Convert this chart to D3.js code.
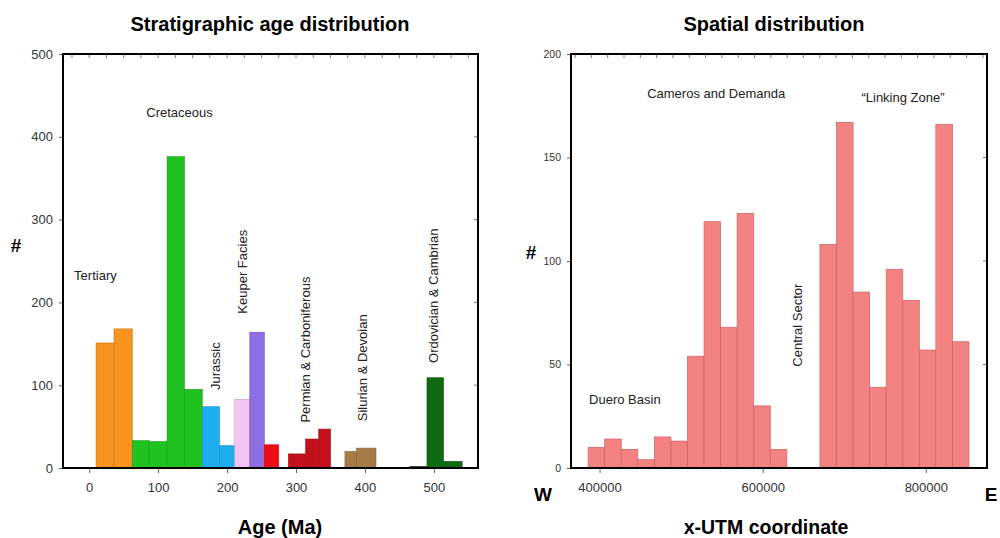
<!DOCTYPE html>
<html>
<head>
<meta charset="utf-8">
<script src="https://cdn.jsdelivr.net/npm/d3@7"></script>
<style>
  body { margin: 0; background: #fff; }
  svg { display: block; }
  text { font-family: "Liberation Sans", Arial, sans-serif; }
</style>
</head>
<body>
<svg id="grafico" width="1000" height="538"></svg>
<script>
// Stratigraphic age bins (Ma)
var ageStart = [10, 36, 62.5, 87, 113, 138, 164, 189, 211, 233, 254, 289, 314, 333, 371, 388, 465, 490, 514],
    ageEnd   = [36, 62.5, 87, 113, 138, 164, 189, 211, 233, 254, 275, 314, 333, 350, 388, 416, 490, 514, 541],
    ageCount = [151, 168, 33, 32, 376, 95, 74, 27, 83, 164, 28, 17, 35, 47, 20, 24, 2, 109, 8],
    ageGroup = ["ter", "ter", "cre", "cre", "cre", "cre", "jur", "jur", "keu1", "keu2", "tri",
                "pc", "pc", "pc", "sd", "sd", "oc0", "oc", "oc"]

var ageTicks = [0, 100, 200, 300, 400, 500],
    ageCountTicks = [0, 100, 200, 300, 400, 500]

// Spatial distribution, x-UTM bins of ~20 km
var utmBinStart = 386000,
    utmBinWidth = 20300,
    utmCount = [10, 14, 9, 4, 15, 13, 54, 119, 68, 123, 30, 9, 0, 0, 108, 167, 85, 39, 96, 81, 57, 166, 61]

var utmTicks = [400000, 600000, 800000],
    utmCountTicks = [0, 50, 100, 150, 200]

var cores = {
    ter: "#f7931e", cre: "#1fc21f", jur: "#1eaef0", keu1: "#f4c4f4", keu2: "#8c6fe3",
    tri: "#ee0d16", pc: "#c3101b", sd: "#a67c46", oc0: "#223322", oc: "#0f6a12"
}

var svg = d3.select("#grafico")

// ---------- painel esquerdo ----------
var xL = d3.scaleLinear().domain([-38, 564]).range([63, 478]),
    yL = d3.scaleLinear().domain([0, 500]).range([468, 54])

var gL = svg.append("g")

gL.selectAll("rect.barra")
    .data(ageCount)
  .enter().append("rect")
    .attr("class", "barra")
    .attr("x", function(d, i) { return xL(ageStart[i]) })
    .attr("width", function(d, i) { return xL(ageEnd[i]) - xL(ageStart[i]) })
    .attr("y", function(d) { return yL(d) })
    .attr("height", function(d) { return yL(0) - yL(d) })
    .attr("fill", function(d, i) { return cores[ageGroup[i]] })
    .attr("stroke", function(d, i) { return d3.color(cores[ageGroup[i]]).darker(0.6) })
    .attr("stroke-width", 0.6)

desenhaMoldura(gL, xL, yL, ageTicks, ageCountTicks, d3.range(-25, 564, 25), 13)

// titulo e rotulos
titulo(gL, 270, 31, 20, "Stratigraphic age distribution")
titulo(gL, 280, 534, 20, "Age (Ma)")
titulo(gL, 16, 252, 19, "#")

rotulo(gL, xL(131), yL(430), 0, "Cretaceous")
rotulo(gL, xL(9), yL(233), 0, "Tertiary")
rotulo(gL, xL(183), yL(123), -90, "Jurassic")
rotulo(gL, xL(223), yL(237), -90, "Keuper Facies")
rotulo(gL, xL(314), yL(143), -90, "Permian & Carboniferous")
rotulo(gL, xL(397), yL(121), -90, "Silurian & Devoian")
rotulo(gL, xL(499), yL(208), -90, "Ordovician & Cambrian")

// ---------- painel direito ----------
var xR = d3.scaleLinear().domain([365000, 875000]).range([571, 987]),
    yR = d3.scaleLinear().domain([0, 200]).range([468, 54])

var gR = svg.append("g")

gR.selectAll("rect.barra")
    .data(utmCount)
  .enter().append("rect")
    .attr("class", "barra")
    .attr("x", function(d, i) { return xR(utmBinStart + i * utmBinWidth) })
    .attr("width", function(d, i) { return xR(utmBinStart + (i + 1) * utmBinWidth) - xR(utmBinStart + i * utmBinWidth) })
    .attr("y", function(d) { return yR(d) })
    .attr("height", function(d) { return yR(0) - yR(d) })
    .attr("fill", "#f58282")
    .attr("stroke", "#c86262")
    .attr("stroke-width", 0.7)
    .style("display", function(d) { return d > 0 ? null : "none" })

desenhaMoldura(gR, xR, yR, utmTicks, utmCountTicks, d3.range(370000, 875000, 20000), 10.5)

titulo(gR, 774, 31, 20, "Spatial distribution")
titulo(gR, 766, 534, 19.5, "x-UTM coordinate")
titulo(gR, 531, 259, 19, "#")
titulo(gR, 543, 501, 19, "W")
titulo(gR, 991, 501, 19, "E")

rotulo(gR, xR(543000), yR(181), 0, "Cameros and Demanda")
rotulo(gR, xR(772000), yR(179), 0, "\u201cLinking Zone\u201d")
rotulo(gR, xR(431000), yR(33), 0, "Duero Basin")
rotulo(gR, xR(642000), yR(69), -90, "Central Sector")

// moldura com eixos e marcas
function desenhaMoldura(g, x, y, xt, yt, menores, tamanhoY) {
    var x0 = x.range()[0], x1 = x.range()[1],
        y0 = y.range()[0], y1 = y.range()[1]

    var eixoY = g.append("g")
        .attr("transform", "translate(" + x0 + ",0)")
        .call(d3.axisLeft(y).tickValues(yt).tickSize(4).tickPadding(6).tickFormat(d3.format("d")))
    eixoY.select(".domain").remove()
    eixoY.selectAll("line").attr("stroke", "#666")
    eixoY.selectAll("text").style("font-size", tamanhoY + "px").attr("fill", "#333")

    var eixoX = g.append("g")
        .attr("transform", "translate(0," + y0 + ")")
        .call(d3.axisBottom(x).tickValues(xt).tickSize(5).tickPadding(10).tickFormat(d3.format("d")))
    eixoX.select(".domain").remove()
    eixoX.selectAll("line").attr("stroke", "#666")
    eixoX.selectAll("text").style("font-size", "13px").attr("fill", "#333")

    // marcas pequenas no topo
    g.selectAll("line.menor-topo")
        .data(menores.filter(function(d) { return x(d) > x0 + 2 && x(d) < x1 - 2 }))
      .enter().append("line")
        .attr("x1", function(d) { return x(d) }).attr("x2", function(d) { return x(d) })
        .attr("y1", y1).attr("y2", y1 + 4)
        .attr("stroke", "#555").attr("stroke-width", 0.8)

    // marcas do lado direito
    g.selectAll("line.direita")
        .data(yt)
      .enter().append("line")
        .attr("x1", x1 - 4).attr("x2", x1)
        .attr("y1", function(d) { return y(d) }).attr("y2", function(d) { return y(d) })
        .attr("stroke", "#555").attr("stroke-width", 0.8)

    g.append("path")
        .attr("d", "M" + x0 + "," + y1 + "V" + y0 + "H" + x1 + "V" + y1 + "Z")
        .attr("fill", "none").attr("stroke", "#000").attr("stroke-width", 2)
}

function titulo(g, x, y, tam, texto) {
    g.append("text").attr("x", x).attr("y", y).attr("text-anchor", "middle")
        .style("font-size", tam + "px").style("font-weight", "bold").text(texto)
}

function rotulo(g, x, y, ang, texto) {
    g.append("text")
        .attr("transform", "translate(" + x + "," + y + ") rotate(" + ang + ")")
        .attr("text-anchor", "middle")
        .attr("dy", "0.35em")
        .style("font-size", "13px")
        .attr("fill", "#222")
        .text(texto)
}
</script>
</body>
</html>
